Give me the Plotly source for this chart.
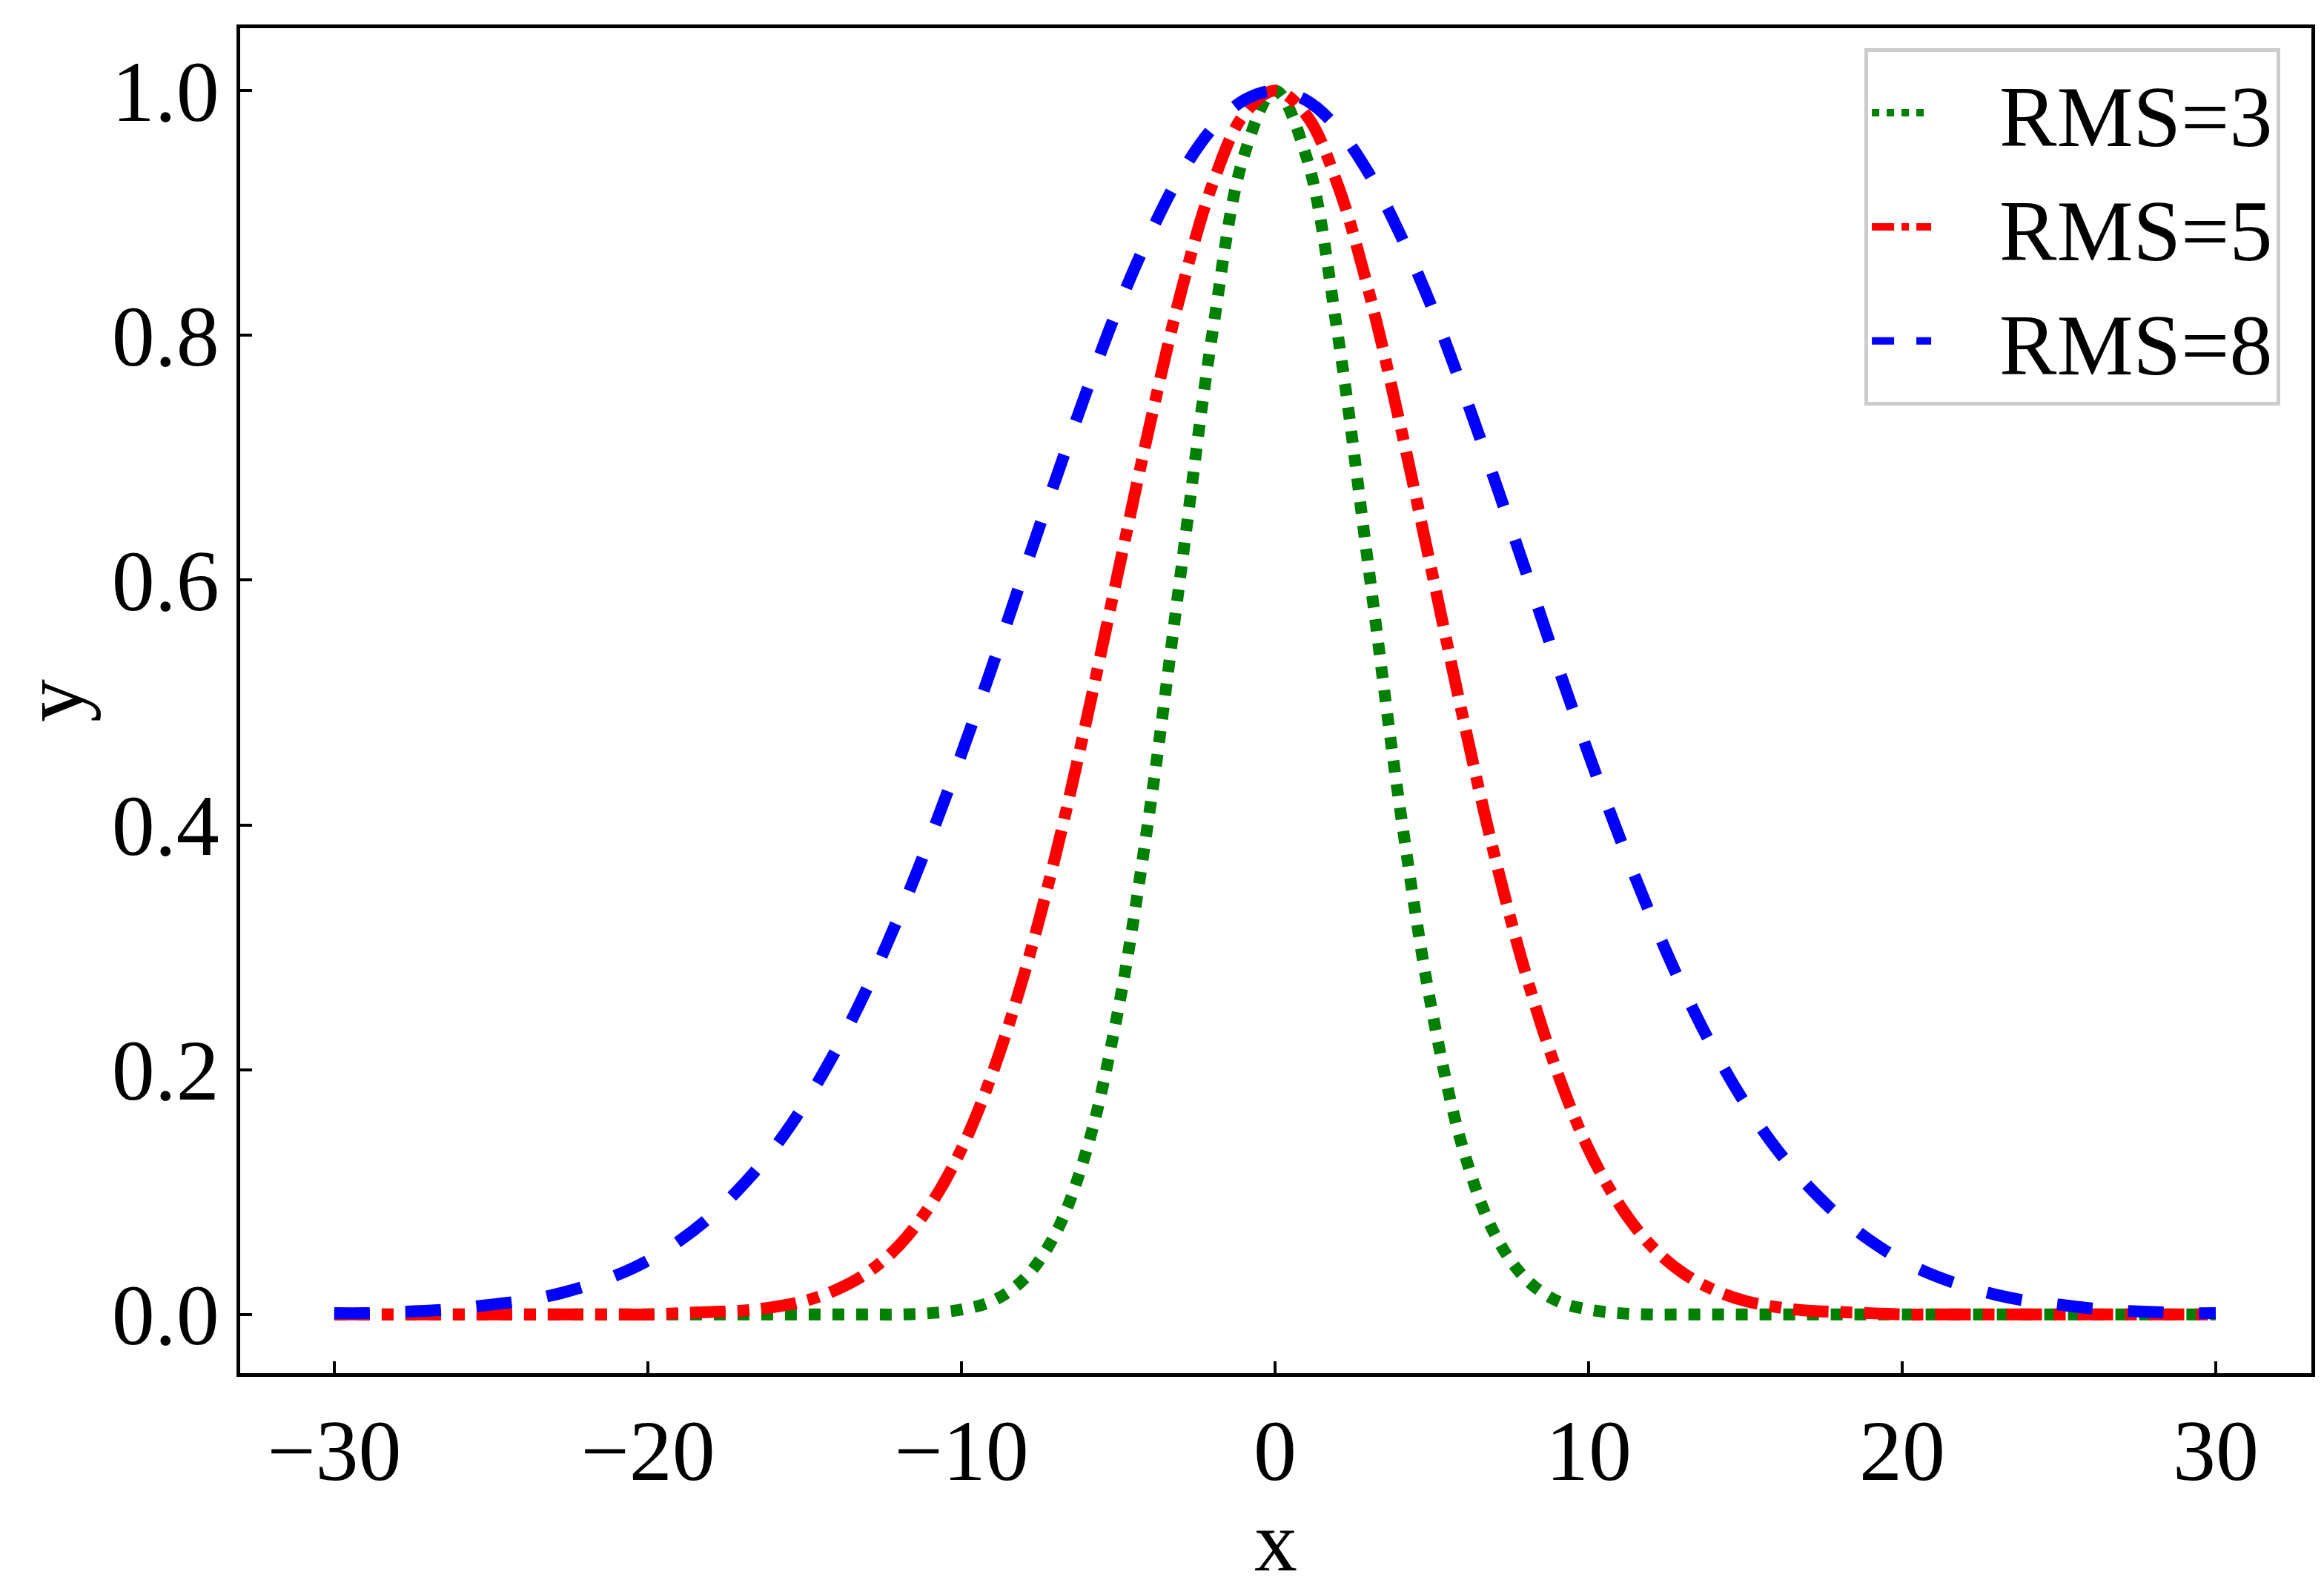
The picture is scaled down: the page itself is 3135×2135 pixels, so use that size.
import plotly.graph_objects as go

# half curves at x = 0, 1, 2, ... (curves are symmetric)
x_half = list(range(0, 31))
rms3_half = [1, 0.946, 0.801, 0.607, 0.411, 0.249, 0.135, 0.066, 0.029, 0.011, 0.004, 0.001] + [0] * 19
rms5_half = [1, 0.980, 0.923, 0.835, 0.726, 0.607, 0.487, 0.375, 0.278, 0.198, 0.135, 0.089,
             0.056, 0.034, 0.020, 0.011, 0.006, 0.003, 0.002, 0.001] + [0] * 11
rms8_half = [1, 0.992, 0.969, 0.932, 0.882, 0.823, 0.755, 0.682, 0.607, 0.531, 0.458, 0.389,
             0.325, 0.267, 0.216, 0.172, 0.135, 0.105, 0.080, 0.060, 0.044, 0.032, 0.023,
             0.016, 0.011, 0.008, 0.005, 0.003, 0.002, 0.001, 0.001]

xs = [-v for v in x_half[:0:-1]] + x_half

def full(h):
    return h[:0:-1] + h

series = [("RMS=3", rms3_half, "green", "dot"),
          ("RMS=5", rms5_half, "red", "dashdot"),
          ("RMS=8", rms8_half, "blue", "dash")]

fig = go.Figure()
for name, h, col, dash in series:
    fig.add_trace(go.Scatter(x=xs, y=full(h), mode="lines", name="   " + name,
                             line=dict(color=col, dash=dash, width=16, shape="spline")))

font = dict(family="Liberation Serif", size=116, color="black")
ax = dict(showgrid=False, zeroline=False, showline=True, mirror=True, linecolor="black",
          linewidth=5, ticks="inside", ticklen=16, tickwidth=4, tickcolor="black",
          tickfont=font)
fig.update_layout(
    width=3135, height=2135, plot_bgcolor="white", paper_bgcolor="white",
    margin=dict(l=316, r=25, t=30, b=291),
    font=font,
    xaxis=dict(ax, range=[-33.0, 33.05], tickvals=[-30, -20, -10, 0, 10, 20, 30],
               ticktext=["\u221230", "\u221220", "\u221210", "0", "10", "20", "30"],
               title=dict(text="x", font=font, standoff=20)),
    yaxis=dict(ax, range=[-0.048, 1.051], tickvals=[0, 0.2, 0.4, 0.6, 0.8, 1.0],
               tickformat=".1f", title=dict(text="y", font=font, standoff=20)),
    legend=dict(x=0.985, y=0.985, xanchor="right", yanchor="top", bgcolor="white",
                bordercolor="#cccccc", borderwidth=5, font=font, itemwidth=80),
)
fig.write_html("out.html")
